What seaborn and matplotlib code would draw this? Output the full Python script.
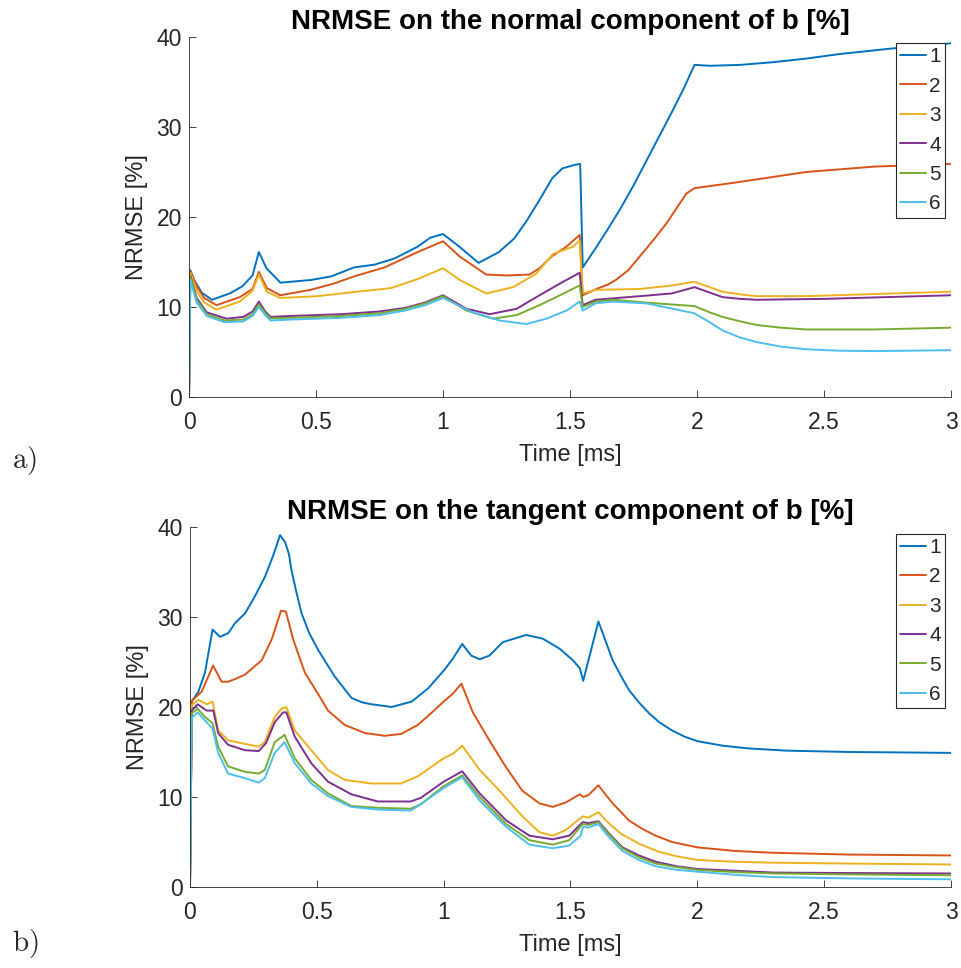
import pandas as pd
import seaborn as sns
import matplotlib.pyplot as plt

# ------------------------------------------------------------
# a) NRMSE on the normal component of b [%]
# ------------------------------------------------------------
tn1 = [0, 0.005, 0.02, 0.05, 0.09, 0.16, 0.21, 0.25, 0.275, 0.305, 0.36, 0.40, 0.48, 0.56, 0.65,
       0.73, 0.81, 0.90, 0.95, 1.0, 1.06, 1.14, 1.22, 1.28, 1.33, 1.38, 1.43, 1.47, 1.52, 1.54,
       1.55, 1.60, 1.65, 1.70, 1.75, 1.80, 1.85, 1.90, 1.95, 1.99, 2.05, 2.17, 2.30, 2.43, 2.56,
       2.76, 3.0]
vn1 = [0, 14.1, 13.0, 11.6, 10.8, 11.5, 12.3, 13.5, 16.1, 14.3, 12.7, 12.8, 13.0, 13.4, 14.4,
       14.7, 15.4, 16.7, 17.7, 18.1, 16.8, 14.9, 16.1, 17.6, 19.6, 21.9, 24.3, 25.4, 25.8, 25.9,
       14.4, 16.5, 18.7, 21.0, 23.5, 26.2, 28.9, 31.6, 34.4, 36.9, 36.8, 36.9, 37.2, 37.6, 38.1,
       38.7, 39.3]

tn2 = [0, 0.005, 0.03, 0.06, 0.108, 0.2, 0.25, 0.275, 0.306, 0.359, 0.478, 0.57, 0.65, 0.77, 0.90,
       1.0, 1.066, 1.17, 1.25, 1.34, 1.38, 1.427, 1.486, 1.538, 1.55, 1.604, 1.65, 1.68, 1.73,
       1.774, 1.83, 1.88, 1.92, 1.958, 1.99, 2.17, 2.43, 2.70, 3.0]
vn2 = [0, 14.0, 12.3, 11.0, 10.2, 11.1, 12.0, 13.9, 12.1, 11.3, 11.9, 12.6, 13.4, 14.4, 16.1,
       17.3, 15.6, 13.6, 13.5, 13.6, 14.3, 15.6, 16.7, 18.0, 11.3, 12.0, 12.5, 13.0, 14.1,
       15.6, 17.5, 19.3, 21.0, 22.6, 23.2, 23.9, 25.0, 25.6, 25.9]

tn3 = [0, 0.005, 0.03, 0.06, 0.108, 0.2, 0.25, 0.275, 0.306, 0.359, 0.505, 0.663, 0.795, 0.90, 1.0,
       1.066, 1.17, 1.276, 1.367, 1.433, 1.512, 1.538, 1.55, 1.60, 1.774, 1.905, 1.99, 2.05, 2.10,
       2.17, 2.235, 2.43, 3.0]
vn3 = [0, 13.8, 11.8, 10.5, 9.7, 10.6, 11.8, 13.6, 11.7, 11.0, 11.2, 11.7, 12.1, 13.1, 14.3,
       13.0, 11.5, 12.2, 13.7, 15.9, 16.7, 17.4, 11.5, 11.9, 12.0, 12.4, 12.8, 12.2, 11.7,
       11.4, 11.2, 11.2, 11.7]

tn4 = [0, 0.005, 0.03, 0.07, 0.148, 0.214, 0.25, 0.275, 0.30, 0.32, 0.40, 0.60, 0.75, 0.85, 0.93,
       1.0, 1.092, 1.184, 1.29, 1.38, 1.46, 1.538, 1.55, 1.60, 1.774, 1.90, 1.99, 2.05, 2.10,
       2.17, 2.235, 2.5, 3.0]
vn4 = [0, 13.5, 11.0, 9.4, 8.7, 8.9, 9.5, 10.6, 9.5, 8.9, 9.0, 9.2, 9.5, 9.9, 10.5,
       11.3, 9.8, 9.2, 9.8, 11.3, 12.6, 13.8, 10.2, 10.8, 11.2, 11.5, 12.2, 11.6, 11.1,
       10.9, 10.8, 10.9, 11.3]

tn5 = [0, 0.005, 0.03, 0.07, 0.14, 0.214, 0.25, 0.275, 0.30, 0.32, 0.40, 0.60, 0.75, 0.85, 0.93,
       1.0, 1.092, 1.197, 1.29, 1.38, 1.46, 1.538, 1.55, 1.60, 1.67, 1.84, 1.99, 2.05, 2.10,
       2.17, 2.235, 2.33, 2.43, 2.70, 3.0]
vn5 = [0, 13.4, 10.8, 9.2, 8.5, 8.6, 9.2, 10.3, 9.3, 8.75, 8.8, 9.0, 9.3, 9.8, 10.4,
       11.2, 9.6, 8.7, 9.1, 10.2, 11.3, 12.4, 10.0, 10.6, 10.8, 10.4, 10.1, 9.4, 8.9,
       8.4, 8.0, 7.7, 7.5, 7.5, 7.7]

tn6 = [0, 0.005, 0.03, 0.07, 0.14, 0.214, 0.25, 0.275, 0.30, 0.32, 0.40, 0.60, 0.75, 0.85, 0.93,
       1.0, 1.118, 1.223, 1.328, 1.407, 1.486, 1.538, 1.55, 1.60, 1.67, 1.80, 1.905, 1.99, 2.05,
       2.10, 2.17, 2.235, 2.33, 2.43, 2.55, 2.70, 3.0]
vn6 = [0, 13.0, 10.5, 9.0, 8.3, 8.4, 9.0, 10.0, 9.1, 8.5, 8.6, 8.8, 9.1, 9.6, 10.2,
       11.0, 9.4, 8.5, 8.1, 8.7, 9.6, 10.6, 9.6, 10.4, 10.6, 10.4, 9.8, 9.3, 8.3,
       7.4, 6.6, 6.1, 5.6, 5.3, 5.15, 5.1, 5.2]

# ------------------------------------------------------------
# b) NRMSE on the tangent component of b [%]
# ------------------------------------------------------------
tt1 = [0, 0.007, 0.033, 0.059, 0.089, 0.118, 0.151, 0.177, 0.217, 0.256, 0.296, 0.329, 0.355, 0.375,
       0.39, 0.40, 0.42, 0.44, 0.47, 0.506, 0.57, 0.637, 0.68, 0.716, 0.795, 0.874, 0.94, 1.005,
       1.037, 1.073, 1.109, 1.142, 1.18, 1.233, 1.325, 1.39, 1.456, 1.509, 1.537, 1.55, 1.61,
       1.64, 1.666, 1.70, 1.73, 1.77, 1.81, 1.85, 1.90, 1.95, 2.0, 2.1, 2.2, 2.35, 2.6, 3.0]
vt1 = [0, 20.6, 21.7, 23.8, 28.6, 27.8, 28.2, 29.3, 30.4, 32.3, 34.5, 36.9, 39.1, 38.3,
       37.0, 35.2, 32.7, 30.4, 28.2, 26.3, 23.4, 21.0, 20.5, 20.3, 20.0, 20.6, 22.1, 24.2,
       25.4, 27.0, 25.7, 25.3, 25.7, 27.2, 28.0, 27.6, 26.5, 25.2, 24.3, 22.9, 29.5,
       27.2, 25.2, 23.4, 21.9, 20.5, 19.3, 18.3, 17.4, 16.7, 16.2, 15.7, 15.4, 15.15, 15.0, 14.9]

tt2 = [0, 0.007, 0.046, 0.091, 0.125, 0.15, 0.177, 0.217, 0.283, 0.322, 0.359, 0.378, 0.407, 0.453,
       0.506, 0.544, 0.61, 0.69, 0.767, 0.832, 0.898, 0.95, 1.0, 1.037, 1.07, 1.115, 1.18, 1.246,
       1.31, 1.377, 1.43, 1.482, 1.537, 1.55, 1.57, 1.61, 1.64, 1.666, 1.70, 1.73, 1.78, 1.836,
       1.9, 2.0, 2.15, 2.3, 2.6, 3.0]
vt2 = [0, 20.7, 21.7, 24.6, 22.8, 22.8, 23.1, 23.6, 25.2, 27.5, 30.7, 30.6, 27.5, 23.8,
       21.4, 19.6, 18.0, 17.1, 16.8, 17.0, 18.0, 19.3, 20.6, 21.5, 22.6, 19.4, 16.3, 13.3,
       10.7, 9.3, 8.9, 9.4, 10.3, 10.0, 10.2, 11.3, 10.2, 9.3, 8.3, 7.4, 6.5, 5.7,
       5.0, 4.4, 4.0, 3.8, 3.6, 3.5]

tt3 = [0, 0.007, 0.033, 0.066, 0.089, 0.111, 0.15, 0.216, 0.271, 0.295, 0.334, 0.36, 0.38, 0.413,
       0.478, 0.544, 0.61, 0.714, 0.832, 0.898, 0.924, 1.0, 1.037, 1.073, 1.142, 1.22, 1.312, 1.377,
       1.43, 1.48, 1.548, 1.57, 1.61, 1.64, 1.666, 1.70, 1.77, 1.85, 1.92, 2.0, 2.15, 2.3, 2.6, 3.0]
vt3 = [0, 20.2, 20.8, 20.3, 20.6, 17.4, 16.3, 15.9, 15.6, 16.1, 18.9, 19.8, 20.0, 17.4,
       15.2, 13.0, 11.9, 11.5, 11.5, 12.3, 12.8, 14.3, 14.8, 15.7, 13.0, 10.7, 7.8, 6.1,
       5.7, 6.3, 7.85, 7.7, 8.3, 7.4, 6.7, 5.9, 4.8, 3.9, 3.4, 3.0, 2.8, 2.7, 2.6, 2.5]

tt4 = [0, 0.007, 0.03, 0.066, 0.092, 0.111, 0.15, 0.216, 0.271, 0.30, 0.334, 0.367, 0.38, 0.413,
       0.478, 0.544, 0.636, 0.74, 0.87, 0.91, 1.0, 1.073, 1.142, 1.246, 1.338, 1.43, 1.495, 1.548,
       1.57, 1.61, 1.65, 1.705, 1.77, 1.836, 1.92, 2.0, 2.15, 2.3, 2.6, 3.0]
vt4 = [0, 19.6, 20.3, 19.6, 19.6, 17.1, 15.8, 15.2, 15.1, 16.0, 18.3, 19.4, 19.4, 16.7,
       13.75, 11.7, 10.3, 9.5, 9.5, 9.9, 11.7, 12.85, 10.4, 7.4, 5.7, 5.3, 5.7, 7.2,
       7.1, 7.3, 6.0, 4.4, 3.5, 2.8, 2.3, 2.0, 1.8, 1.6, 1.55, 1.5]

tt5 = [0, 0.007, 0.03, 0.059, 0.089, 0.111, 0.15, 0.216, 0.271, 0.295, 0.334, 0.373, 0.413, 0.478,
       0.544, 0.636, 0.74, 0.87, 0.91, 1.0, 1.073, 1.142, 1.246, 1.338, 1.43, 1.495, 1.548, 1.57,
       1.61, 1.65, 1.705, 1.77, 1.836, 1.92, 2.0, 2.15, 2.3, 2.6, 3.0]
vt5 = [0, 19.3, 19.8, 18.9, 18.2, 15.6, 13.4, 12.8, 12.6, 13.0, 16.1, 16.9, 14.3, 11.9,
       10.4, 9.0, 8.8, 8.7, 9.2, 11.2, 12.4, 10.0, 7.0, 5.2, 4.7, 5.2, 7.0, 6.9,
       7.2, 5.9, 4.3, 3.3, 2.6, 2.2, 1.9, 1.65, 1.5, 1.4, 1.3]

tt6 = [0, 0.007, 0.03, 0.059, 0.089, 0.111, 0.15, 0.216, 0.271, 0.295, 0.334, 0.373, 0.413, 0.478,
       0.544, 0.636, 0.74, 0.87, 0.91, 1.0, 1.073, 1.142, 1.246, 1.338, 1.43, 1.495, 1.54, 1.55,
       1.57, 1.61, 1.65, 1.705, 1.77, 1.836, 1.92, 2.0, 2.15, 2.3, 2.6, 3.0]
vt6 = [0, 18.8, 19.4, 18.5, 17.6, 14.9, 12.6, 12.1, 11.6, 12.1, 14.9, 16.1, 13.75, 11.5,
       10.1, 8.9, 8.6, 8.5, 9.2, 11.0, 12.2, 9.6, 6.7, 4.7, 4.3, 4.6, 5.7, 6.7,
       6.6, 7.0, 5.6, 4.0, 3.0, 2.3, 1.9, 1.7, 1.35, 1.1, 0.95, 0.85]

labels = ["1", "2", "3", "4", "5", "6"]
colors = ["#0072BD", "#D95319", "#EDB120", "#7E2F8E", "#77AC30", "#4DBEEE"]
x_ticks = [0, 0.5, 1, 1.5, 2, 2.5, 3]
x_ticklabels = ["0", "0.5", "1", "1.5", "2", "2.5", "3"]
y_ticks = [0, 10, 20, 30, 40]


def long_table(ts, vs):
    frames = []
    for lab, t, v in zip(labels, ts, vs):
        frames.append(pd.DataFrame({"t": t, "v": v, "serie": lab}))
    return pd.concat(frames, ignore_index=True)


df_n = long_table([tn1, tn2, tn3, tn4, tn5, tn6], [vn1, vn2, vn3, vn4, vn5, vn6])
df_t = long_table([tt1, tt2, tt3, tt4, tt5, tt6], [vt1, vt2, vt3, vt4, vt5, vt6])

sns.set_style("ticks")
plt.rcParams["font.family"] = ["Liberation Sans", "DejaVu Sans"]
plt.rcParams["mathtext.fontset"] = "cm"
ink = "#262626"

fig = plt.figure(figsize=(9.61, 9.68), dpi=100)
ax_a = fig.add_axes([0.1967, 0.5899, 0.7929, 0.3719])
ax_b = fig.add_axes([0.1977, 0.0837, 0.7919, 0.3719])

panels = [
    (ax_a, df_n, "NRMSE on the normal component of b [%]", 0.983),
    (ax_b, df_t, "NRMSE on the tangent component of b [%]", 0.981),
]

for ax, df, title, leg_y in panels:
    sns.lineplot(data=df, x="t", y="v", hue="serie", hue_order=labels,
                 palette=colors, estimator=None, sort=False, linewidth=1.4, ax=ax)
    ax.set_xlim(0, 3)
    ax.set_ylim(0, 40)
    ax.set_xticks(x_ticks)
    ax.set_xticklabels(x_ticklabels)
    ax.set_yticks(y_ticks)
    ax.tick_params(direction="in", length=5, width=0.6, color=ink,
                   labelcolor=ink, labelsize=16.5)
    ax.tick_params(axis="x", pad=10)
    ax.tick_params(axis="y", pad=5)
    for side in ["left", "bottom"]:
        ax.spines[side].set_color(ink)
        ax.spines[side].set_linewidth(0.6)
    sns.despine(ax=ax)
    ax.set_xlabel("Time [ms]", fontsize=17, color=ink, labelpad=7.5)
    ax.set_ylabel("NRMSE [%]", fontsize=17, color=ink, labelpad=6)
    ax.set_title(title, fontsize=20, fontweight="bold", color="black", pad=6)
    leg = ax.legend(loc="upper right", bbox_to_anchor=(0.992, leg_y), fontsize=15,
                    handlelength=1.25, handletextpad=0.15, labelspacing=0.5,
                    borderpad=0.2, borderaxespad=0, fancybox=False, framealpha=1)
    leg.get_frame().set_edgecolor(ink)
    leg.get_frame().set_linewidth(0.8)

fig.text(0.012, 1 - 460 / 968, r"$\mathrm{a)}$", fontsize=21, va="center", ha="left")
fig.text(0.012, 1 - 943 / 968, r"$\mathrm{b)}$", fontsize=21, va="center", ha="left")

fig.savefig("out.png", dpi=100)
